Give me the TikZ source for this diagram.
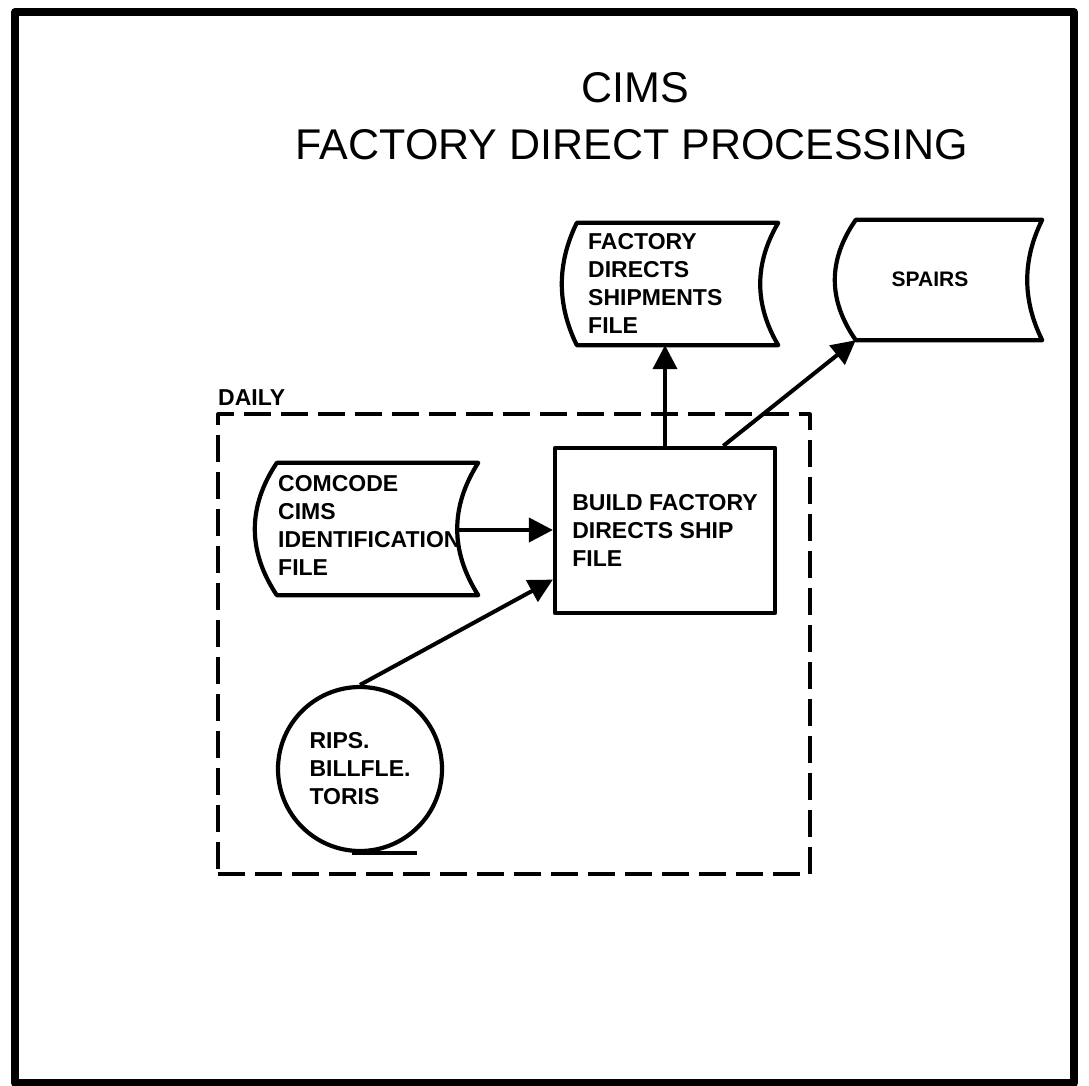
\documentclass[tikz,border=0pt]{standalone}
\usepackage{fontspec}
\setmainfont{Liberation Sans}
\usetikzlibrary{arrows.meta,calc}

% Outline of a stored-data symbol around a rectangular node:
% #1 node name, #2 bulge of the left side, #3 hollow of the right side
\newcommand{\storeoutline}[3]{%
  \draw[shapeline] let \p1=(#1.north west), \p2=(#1.south east), \n1={(\y1-\y2)/3} in
    (\x1,\y1) -- (\x2,\y1)
    .. controls ({\x2-4/3*#3pt},{\y1-\n1}) and ({\x2-4/3*#3pt},{\y2+\n1}) .. (\x2,\y2)
    -- (\x1,\y2)
    .. controls ({\x1-4/3*#2pt},{\y2+\n1}) and ({\x1-4/3*#2pt},{\y1-\n1}) .. cycle;}

\begin{document}
\begin{tikzpicture}[x=1pt,y=-1pt,line join=round,
  frame/.style={line width=8pt},
  shapeline/.style={line width=4.2pt},
  flow/.style={line width=4pt,-{Triangle[length=24pt,width=24pt]}},
  dailybox/.style={draw,rectangle,line width=3.2pt,dash pattern=on 27pt off 10pt,inner sep=0pt},
  body/.style={font=\fontsize{23}{28}\selectfont\bfseries,align=left,inner sep=0pt},
  title/.style={font=\fontsize{43}{50}\selectfont,inner sep=0pt},
  store/.style={rectangle,inner sep=0pt,draw=none},
]
\fill[white] (0,0) rectangle (1089,1086);
\useasboundingbox (0,0) rectangle (1089,1086);

% page frame
\draw[frame] (15,12) rectangle (1074,1083);

% heading
\node[title,anchor=base] (head1) at (635,103) {CIMS};
\node[title,anchor=base] (head2) at (632,160) {FACTORY DIRECT PROCESSING};

% daily run boundary
\node[dailybox,minimum width=592pt,minimum height=460pt] (daily) at (514,644) {};
\node[body,anchor=base west] (dailylabel) at (218,405) {DAILY};

% stored data files
\node[store,minimum width=201pt,minimum height=122pt] (fds) at (677.5,284) {};
\storeoutline{fds}{15}{18}
\node[body,anchor=north west] (fdstext) at (588,233.3) {FACTORY\\DIRECTS\\SHIPMENTS\\FILE};

\node[store,minimum width=186pt,minimum height=120pt] (spairs) at (949,280) {};
\storeoutline{spairs}{21}{15}
\node[body,font=\fontsize{21}{26}\selectfont\bfseries] (spairstext) at (930,279.5) {SPAIRS};

\node[store,minimum width=201pt,minimum height=132pt] (com) at (377.5,529) {};
\storeoutline{com}{22}{21}
\node[body,anchor=north west] (comtext) at (278,475.3) {COMCODE\\CIMS\\IDENTIFICATION\\FILE};
\coordinate (comout) at (457,530);

% process
\node[draw,shapeline,body,minimum width=220pt,minimum height=165pt] (build) at (665,530.5)
  {BUILD FACTORY\\DIRECTS SHIP\\FILE};

% magnetic tape
\node[draw,shapeline,circle,minimum size=164pt,body] (tape) at (360,769)
  {RIPS.\\BILLFLE.\\TORIS};
\draw[shapeline] ($(tape.south)+(-8,0)$) -- ++(65,0);

% flows
\draw[flow] (comout) -- (comout -| build.west);
\draw[flow] (tape.north) -- ($(build.south west)!0.21!(build.north west)$);
\draw[flow] (build.north) -- (build.north |- fds.south);
\draw[flow] ($(build.north west)!0.76!(build.north east)$) -- (spairs.south west);
\end{tikzpicture}
\end{document}
